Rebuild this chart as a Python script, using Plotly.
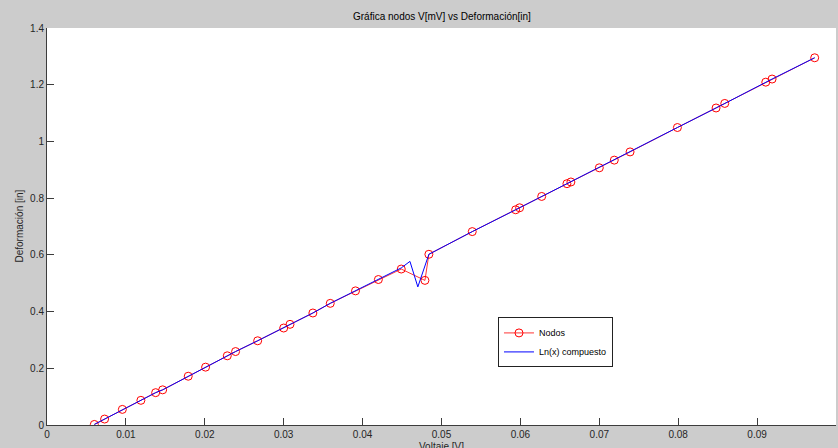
import plotly.graph_objects as go

# Nodes (red circles)
nodos_x = [0.0060, 0.0073, 0.00955, 0.0119, 0.01377, 0.01466, 0.0179, 0.0201, 0.02285, 0.0239,
           0.0267, 0.0300, 0.0308, 0.0337, 0.0359, 0.0391, 0.0420, 0.0449, 0.0479, 0.0484,
           0.0539, 0.0594, 0.0599, 0.0627, 0.0659, 0.0664, 0.0700, 0.0719, 0.0739, 0.0799,
           0.0848, 0.0859, 0.0911, 0.0919, 0.0973]
nodos_y = [0.002, 0.021, 0.055, 0.087, 0.114, 0.124, 0.172, 0.204, 0.244, 0.259,
           0.297, 0.342, 0.355, 0.395, 0.429, 0.473, 0.513, 0.550, 0.510, 0.602,
           0.682, 0.759, 0.766, 0.806, 0.851, 0.857, 0.907, 0.934, 0.963, 1.049,
           1.118, 1.134, 1.209, 1.220, 1.295]

# Composite Ln(x) curve (blue)
ln_x = [0.0060, 0.0073, 0.00955, 0.0119, 0.01377, 0.01466, 0.0179, 0.0201, 0.02285, 0.0239,
        0.0267, 0.0300, 0.0308, 0.0337, 0.0359, 0.0391, 0.0420, 0.0449, 0.0460, 0.0470,
        0.0484, 0.0539, 0.0594, 0.0599, 0.0627, 0.0659, 0.0664, 0.0700, 0.0719, 0.0739,
        0.0799, 0.0848, 0.0859, 0.0911, 0.0919, 0.0973]
ln_y = [0.002, 0.021, 0.055, 0.087, 0.114, 0.124, 0.172, 0.204, 0.244, 0.259,
        0.297, 0.342, 0.355, 0.395, 0.429, 0.473, 0.513, 0.554, 0.577, 0.487,
        0.602, 0.682, 0.759, 0.766, 0.806, 0.851, 0.857, 0.907, 0.934, 0.963,
        1.049, 1.118, 1.134, 1.209, 1.220, 1.295]

x_ticks = [0, 0.01, 0.02, 0.03, 0.04, 0.05, 0.06, 0.07, 0.08, 0.09, 0.1]
y_ticks = [0, 0.2, 0.4, 0.6, 0.8, 1, 1.2, 1.4]

FONT = "Liberation Sans, Arial, sans-serif"
AX = "#3c3c3c"

fig = go.Figure()
fig.add_trace(go.Scatter(
    x=nodos_x, y=nodos_y, mode="lines+markers", name="Nodos",
    line=dict(color="#ff0000", width=0.8),
    marker=dict(symbol="circle-open", size=8, color="#ff0000", line=dict(width=1)),
))
fig.add_trace(go.Scatter(
    x=ln_x, y=ln_y, mode="lines", name="Ln(x) compuesto",
    line=dict(color="#0000ff", width=1),
))

fig.update_layout(
    width=838, height=448,
    margin=dict(l=47, r=2, t=28, b=23, autoexpand=False),
    paper_bgcolor="#cccccc", plot_bgcolor="#ffffff",
    font=dict(family=FONT, size=10, color="#262626"),
    showlegend=True,
    legend=dict(x=0.5716, y=0.271, xanchor="left", yanchor="top",
                bgcolor="#ffffff", bordercolor="#222222", borderwidth=1,
                font=dict(size=9, color="#000000"), tracegroupgap=0,
                itemwidth=30),
    annotations=[
        dict(text="Gráfica nodos V[mV] vs Deformación[in]", xref="paper", yref="paper",
             x=0.5, y=1, yanchor="bottom", yshift=4, showarrow=False,
             font=dict(size=10, color="#000000")),
        dict(text="Voltaje [V]", xref="paper", yref="paper", x=0.5, y=0,
             yanchor="top", yshift=-14, showarrow=False,
             font=dict(size=10, color="#262626")),
        dict(text="Deformación [in]", xref="paper", yref="paper", x=0, y=0.5,
             xanchor="center", xshift=-28, textangle=-90, showarrow=False,
             font=dict(size=10, color="#262626")),
    ],
)
fig.update_xaxes(range=[0, 0.1], tickvals=x_ticks, ticktext=[str(t) for t in x_ticks],
                 automargin=False,
                 showgrid=False, zeroline=False, showline=True, linecolor=AX, linewidth=1,
                 ticks="inside", ticklen=7, tickcolor=AX, tickwidth=1)
fig.update_yaxes(range=[0, 1.4], tickvals=y_ticks, ticktext=[str(t) for t in y_ticks],
                 automargin=False,
                 showgrid=False, zeroline=False, showline=True, linecolor=AX, linewidth=1,
                 ticks="inside", ticklen=7, tickcolor=AX, tickwidth=1)

fig.write_html("out.html",
               config={"displayModeBar": False},
               post_script="document.body.style.margin='0';"
                           "document.body.style.background='#cccccc';")
